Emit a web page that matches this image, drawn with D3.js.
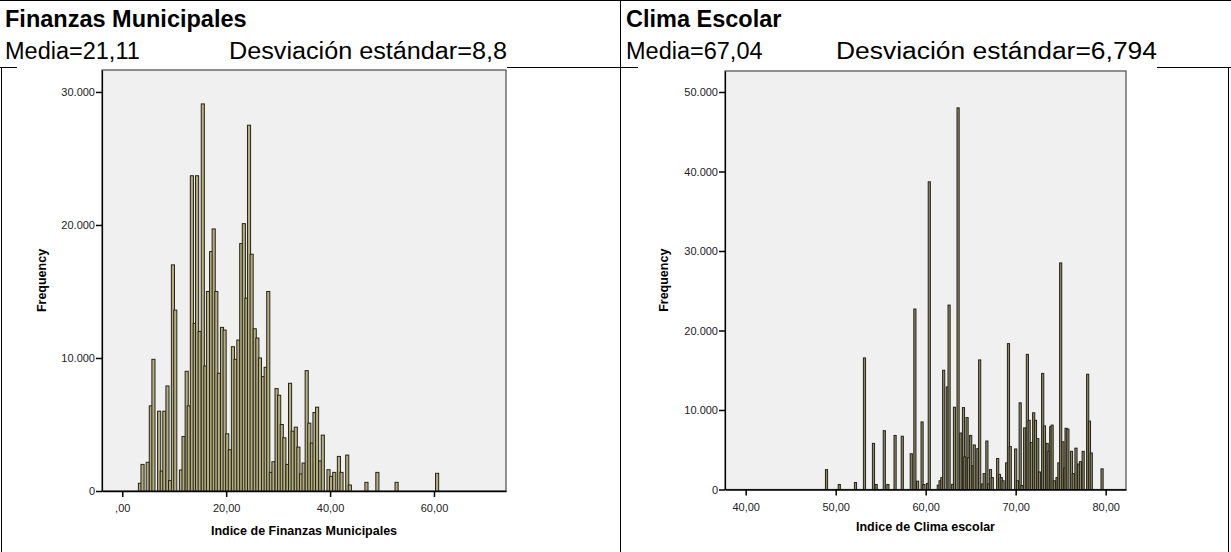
<!DOCTYPE html>
<html>
<head>
<meta charset="utf-8">
<script src="https://cdn.jsdelivr.net/npm/d3@7"></script>
<style>
  html, body { margin: 0; padding: 0; background: #fff; }
  svg { display: block; font-family: "Liberation Sans", Arial, sans-serif; }
</style>
</head>
<body>
<svg id="chart" width="1231" height="552"></svg>
<script>
// ---- Finanzas Municipales: bin midpoints and frequencies ----
const finMid = [3.4, 3.9, 4.9, 5.5, 6.0, 7.1, 7.6, 8.1, 8.7, 9.2, 9.75, 10.2, 11.3, 11.8, 12.4, 12.8,
  13.4, 13.95, 14.4, 14.9, 15.5, 16.0, 16.5, 17.1, 17.6, 18.1, 18.6, 19.2, 19.7, 20.2, 20.7, 21.3,
  21.8, 22.35, 22.9, 23.4, 23.9, 24.4, 24.9, 25.5, 26.0, 26.5, 27.1, 27.6, 28.1, 28.6, 29.1, 29.7,
  30.2, 30.7, 31.2, 31.8, 32.3, 32.8, 33.4, 33.9, 34.4, 34.9, 35.5, 36.0, 36.5, 37.0, 37.5, 38.1,
  38.6, 39.7, 40.2, 40.8, 41.7, 42.2, 43.3, 43.8, 47.0, 49.1, 52.8, 60.6];
const finFreq = [580, 2000, 2160, 6400, 9900, 6000, 1500, 6000, 7900, 780, 17000, 13600, 1580, 4100, 9000, 6400,
  23700, 12600, 23700, 12000, 29100, 9400, 15000, 18000, 19700, 15000, 8850, 12300, 12100, 4300, 3100, 10850,
  9900, 11350, 18600, 20100, 14500, 27500, 17800, 12200, 11500, 10000, 8600, 9300, 15000, 1400, 2200, 7700,
  7200, 5000, 4000, 2000, 8100, 4500, 4800, 3300, 1280, 2100, 9050, 5100, 3600, 5900, 6300, 2260,
  4200, 1600, 1100, 1400, 2600, 1400, 2700, 450, 650, 1400, 650, 1330];

// ---- Clima Escolar: bin midpoints and frequencies ----
const cliMid = [48.98, 50.4, 52.2, 53.2, 54.2, 54.5, 55.4, 55.8, 56.6, 57.4, 58.4, 58.8, 59.1, 59.6, 59.8,
  60.2, 60.4, 61.4, 61.6, 61.8, 62.0, 62.4, 62.6, 63.0, 63.2, 63.6, 63.9, 64.2, 64.35, 64.6, 64.75,
  65.0, 65.25, 65.4, 65.8, 66.0, 66.3, 66.5, 66.8, 67.0, 67.2, 67.4, 68.0, 68.2, 68.4, 68.6, 69.0,
  69.2, 69.4, 70.0, 70.2, 70.5, 70.7, 71.0, 71.3, 71.5, 71.75, 72.0, 72.2, 72.45, 72.65, 73.0, 73.2,
  73.5, 73.7, 73.9, 74.05, 74.3, 74.6, 74.8, 75.0, 75.25, 75.45, 75.6, 75.8, 76.2, 76.4, 76.7, 77.0,
  77.2, 77.5, 78.0, 78.2, 78.4, 79.6];
const cliFreq = [2500, 630, 880, 16550, 5800, 630, 7400, 630, 6800, 6700, 4500, 22700, 1050, 8500, 630,
  750, 38700, 550, 1100, 1500, 15000, 12900, 23200, 650, 10350, 48000, 7100, 10300, 4100, 9050, 4000,
  6800, 3000, 5600, 5150, 16300, 700, 2000, 6100, 700, 2500, 1500, 3900, 1900, 1500, 1100, 3350,
  18350, 5400, 5100, 1100, 10900, 500, 7750, 17000, 8700, 5900, 9650, 8700, 6400, 2200, 14600, 8000,
  5800, 4800, 7900, 8100, 1100, 1500, 3350, 28500, 6000, 2700, 7700, 7600, 4800, 2000, 5200, 3200,
  3500, 4800, 14500, 8600, 4600, 2600];

// ---- tick values and their labels ----
const finXTicks = [0, 20, 40, 60];
const finXTickLabels = [",00", "20,00", "40,00", "60,00"];
const finYTicks = [0, 10000, 20000, 30000];
const finYTickLabels = ["0", "10.000", "20.000", "30.000"];

const cliXTicks = [40, 50, 60, 70, 80];
const cliXTickLabels = ["40,00", "50,00", "60,00", "70,00", "80,00"];
const cliYTicks = [0, 10000, 20000, 30000, 40000, 50000];
const cliYTickLabels = ["0", "10.000", "20.000", "30.000", "40.000", "50.000"];

// ---- panel texts ----
const panels = [
  { title: "Finanzas Municipales", media: "Media=21,11", sd: "Desviación estándar=8,8",
    xLabel: "Indice de Finanzas Municipales" },
  { title: "Clima Escolar", media: "Media=67,04", sd: "Desviación estándar=6,794",
    xLabel: "Indice de Clima escolar" }
];

const svg = d3.select("#chart");
const W = 1231, H = 552;

// table frame lines
const frame = svg.append("g").attr("stroke", "#000").attr("stroke-width", 1);
frame.append("line").attr("x1", 0).attr("x2", W).attr("y1", 0.5).attr("y2", 0.5);
frame.append("line").attr("x1", 0).attr("x2", W).attr("y1", 67.5).attr("y2", 67.5);
frame.append("line").attr("x1", 620.5).attr("x2", 620.5).attr("y1", 0).attr("y2", H);
frame.append("line").attr("x1", 1.5).attr("x2", 1.5).attr("y1", 67).attr("y2", H);
frame.append("line").attr("x1", 1228.5).attr("x2", 1228.5).attr("y1", 67).attr("y2", H);

// panel headings: title, then the mean and standard deviation line
const headX = [5, 626];
const sdStartX = [229, 836];
const sdEndX = [507, 1157];
panels.forEach((p, i) => {
  const g = svg.append("g");
  g.append("text").attr("x", headX[i]).attr("y", 27)
    .attr("font-size", 23.5).attr("font-weight", "bold").attr("fill", "#000").text(p.title);
  const stats = g.append("g");
  const bg = stats.append("rect").attr("fill", "#fff");
  stats.append("text").attr("x", headX[i]).attr("y", 59).attr("font-size", 23.5).text(p.media);
  stats.append("text").attr("x", sdStartX[i]).attr("y", 59).attr("font-size", 23.5)
    .attr("textLength", sdEndX[i] - sdStartX[i]).attr("lengthAdjust", "spacingAndGlyphs").text(p.sd);
  const bb = stats.node().getBBox();
  bg.attr("x", bb.x + 12).attr("y", bb.y).attr("width", bb.width - 12).attr("height", 68.4 - bb.y);
});

function histogram(cfg) {
  const x = d3.scaleLinear().domain(cfg.xDomain).range([cfg.left, cfg.right]);
  const y = d3.scaleLinear().domain(cfg.yDomain).range([cfg.bottom, cfg.top]);
  const g = svg.append("g");

  g.append("rect")
    .attr("x", cfg.left).attr("y", cfg.top)
    .attr("width", cfg.right - cfg.left).attr("height", cfg.bottom - cfg.top)
    .attr("fill", "#f0f0f0").attr("stroke", "#4a4a4a").attr("stroke-width", 1.2);

  g.append("g").selectAll("rect")
    .data(cfg.mids.map((m, i) => ({ m, f: cfg.freqs[i] })))
    .join("rect")
      .attr("x", d => x(d.m - cfg.hw))
      .attr("width", d => x(d.m + cfg.hw) - x(d.m - cfg.hw))
      .attr("y", d => y(d.f))
      .attr("height", d => y(0) - y(d.f))
      .attr("fill", cfg.fill)
      .attr("stroke", cfg.stroke)
      .attr("stroke-width", 1);

  const xAxis = d3.axisBottom(x).tickValues(cfg.xTicks)
    .tickFormat((d, i) => cfg.xTickLabels[i]).tickSize(6).tickSizeOuter(0);
  const gx = g.append("g").attr("transform", `translate(0,${cfg.bottom})`).call(xAxis);
  gx.select(".domain").attr("stroke", "#000").attr("stroke-width", 1.5);
  gx.selectAll(".tick line").attr("stroke", "#000").attr("stroke-width", 1.5);
  gx.selectAll(".tick text").attr("font-size", 11).attr("fill", "#222").attr("dy", "1.1em")
    .attr("font-family", "Liberation Sans, Arial, sans-serif");

  const yAxis = d3.axisLeft(y).tickValues(cfg.yTicks)
    .tickFormat((d, i) => cfg.yTickLabels[i]).tickSize(6).tickSizeOuter(0);
  const gy = g.append("g").attr("transform", `translate(${cfg.left},0)`).call(yAxis);
  gy.select(".domain").attr("stroke", "#000").attr("stroke-width", 1.2);
  gy.selectAll(".tick line").attr("stroke", "#000").attr("stroke-width", 1.5);
  gy.selectAll(".tick text").attr("font-size", 11).attr("fill", "#222").attr("x", -7)
    .attr("font-family", "Liberation Sans, Arial, sans-serif");

  g.append("text")
    .attr("transform", `translate(${cfg.yLabelX},${(cfg.top + cfg.bottom) / 2}) rotate(-90)`)
    .attr("text-anchor", "middle").attr("font-size", 12.5).attr("font-weight", "bold")
    .text("Frequency");

  g.append("text")
    .attr("x", (cfg.left + cfg.right) / 2).attr("y", cfg.xLabelY)
    .attr("text-anchor", "middle").attr("font-size", 12.5).attr("font-weight", "bold")
    .text(cfg.xLabel);
}

histogram({
  left: 102, right: 506, top: 70, bottom: 491,
  xDomain: [-3.9, 73.86], yDomain: [0, 31650],
  mids: finMid, freqs: finFreq, hw: 0.3,
  fill: "#b3ad80", stroke: "#26251b",
  xTicks: finXTicks, xTickLabels: finXTickLabels,
  yTicks: finYTicks, yTickLabels: finYTickLabels,
  yLabelX: 46, xLabelY: 535, xLabel: panels[0].xLabel
});

histogram({
  left: 725, right: 1126, top: 71, bottom: 489.5,
  xDomain: [37.7, 82.26], yDomain: [0, 52640],
  mids: cliMid, freqs: cliFreq, hw: 0.12,
  fill: "#8e8966", stroke: "#24231a",
  xTicks: cliXTicks, xTickLabels: cliXTickLabels,
  yTicks: cliYTicks, yTickLabels: cliYTickLabels,
  yLabelX: 668, xLabelY: 531, xLabel: panels[1].xLabel
});
</script>
</body>
</html>
